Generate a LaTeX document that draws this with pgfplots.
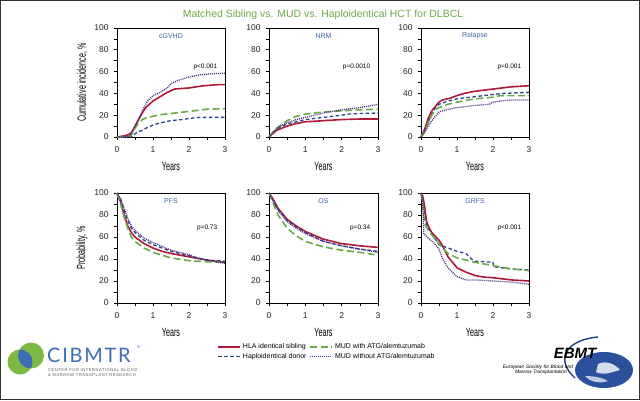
\documentclass[border=0pt]{standalone}
\usepackage{fontspec}
\setmainfont{Liberation Sans}
\newfontfamily\latofont{Lato}
\usepackage{pgfplots}
\pgfplotsset{compat=1.18}
\definecolor{cred}{HTML}{B0183A}
\definecolor{cblue}{HTML}{2A4585}
\definecolor{cgreen}{HTML}{6AAA45}
\definecolor{cpurple}{HTML}{4B2D7F}
\definecolor{ttlgreen}{HTML}{6EAA48}
\definecolor{ptitle}{HTML}{3F62A0}
\definecolor{logoblue}{HTML}{3E6DB5}
\definecolor{logogreen}{HTML}{7DB843}
\definecolor{ebmtblue}{HTML}{2B509C}
\pgfplotsset{
  panel/.style={
    scale only axis, anchor=south west,
    xmin=0, xmax=3, ymin=0, ymax=100,
    xtick={0,1,2,3}, ytick={0,20,...,100},
    minor x tick num=1, minor y tick num=1,
    tick align=outside, tick pos=left,
    major tick length=3bp, minor tick length=3bp,
    axis line style={line width=0.8bp},
    every tick/.style={black, line width=0.6bp},
    tick label style={font=\fontsize{8.5}{9}\selectfont, text=black!85},
    xticklabel style={yshift=-3bp},
    yticklabel style={xshift=-2bp},
    /pgf/number format/assume math mode=true,
    xlabel={\scalebox{0.6}[1]{Years}},
    xlabel style={yshift=-3bp},
    label style={font=\fontsize{12}{12}\selectfont},
    clip=false,
  },
  sred/.style={cred, line width=1.6bp, line join=round},
  sblue/.style={cblue, line width=1.3bp, dash pattern=on 3.5bp off 2.5bp},
  sgreen/.style={cgreen, line width=1.6bp, dash pattern=on 7bp off 3.5bp},
  spurple/.style={cpurple, line width=1.3bp, dash pattern=on 1bp off 1bp},
}
\newcommand{\ptitle}[1]{\node[text=ptitle, font=\fontsize{7}{8}\selectfont] at (axis cs:1.5,93) {#1};}
\newcommand{\pval}[2]{\node[anchor=east, font=\fontsize{6.5}{7}\selectfont] at (axis cs:2.88,#2) {#1};}
\begin{document}
\begin{tikzpicture}[x=1bp,y=1bp]
\useasboundingbox (0,0) rectangle (640,400);
\fill[white] (0,0) rectangle (640,400);
\draw[line width=1bp, black!80] (0.5,0.5) rectangle (639.5,399.5);
\node[text=ttlgreen, font=\fontsize{10.5}{12}\selectfont] at (323,385) {Matched Sibling vs. MUD vs. Haploidentical HCT for DLBCL};

% ---------- cGVHD
\begin{axis}[panel, at={(117bp,263bp)}, width=108bp, height=109bp,
  ylabel={\scalebox{0.6}[1]{Cumulative incidence, \%}}]
\addplot[sred] coordinates {(0,0)(0.1,0.5)(0.2,1)(0.3,2)(0.4,4)(0.5,10)(0.6,16)(0.7,22)(0.8,27)(0.9,30)(1.0,33)(1.2,37)(1.4,41)(1.6,44)(1.8,44.5)(2.0,45)(2.2,46)(2.4,47)(2.6,47.5)(2.8,48)(3.0,48)};
\addplot[sblue] coordinates {(0,0)(0.4,0)(0.5,3)(0.6,5)(0.7,6)(0.8,8)(1.0,11)(1.2,13)(1.5,15)(1.8,16)(2,17)(2.3,18)(3,18)};
\addplot[sgreen] coordinates {(0,0)(0.3,0.5)(0.4,2)(0.5,8)(0.6,13)(0.7,16)(0.8,17.5)(1.0,19)(1.2,20.5)(1.5,21.5)(2.0,23.5)(2.5,25.5)(3,26)};
\addplot[spurple] coordinates {(0,0)(0.2,0.5)(0.35,1)(0.45,6)(0.55,13)(0.65,20)(0.75,27)(0.85,33)(1.0,38)(1.2,41)(1.4,45)(1.5,49)(1.7,52)(2.0,55)(2.3,57)(2.6,58)(3,58.5)};
\ptitle{cGVHD}
\pval{p<0.001}{64.5}
\end{axis}

% ---------- NRM
\begin{axis}[panel, at={(269bp,263bp)}, width=109bp, height=109bp]
\addplot[sred] coordinates {(0,0)(0.1,3)(0.2,6)(0.35,8)(0.5,10)(0.7,12)(1.0,14)(1.3,14.5)(1.5,15)(2.0,16)(2.5,16.5)(3,16.5)};
\addplot[sblue] coordinates {(0,0)(0.1,4)(0.25,8)(0.5,12)(0.75,14)(1.0,16)(1.5,18)(2.0,20)(2.2,21)(2.5,21.5)(3,22)};
\addplot[sgreen] coordinates {(0,0)(0.1,4)(0.25,9)(0.5,15)(0.75,19)(1.0,21)(1.5,23)(2.0,24)(2.5,25)(3,25.5)};
\addplot[spurple] coordinates {(0,0)(0.1,4)(0.25,9)(0.5,13)(0.75,16)(1.0,18)(1.5,22)(2.0,25)(2.5,27)(3,30)};
\ptitle{NRM}
\pval{p=0.0010}{64.5}
\end{axis}

% ---------- Relapse
\begin{axis}[panel, at={(421bp,263bp)}, width=108bp, height=109bp]
\addplot[sred] coordinates {(0,0)(0.1,7)(0.2,17)(0.3,24)(0.4,28)(0.5,32)(0.6,34)(0.8,35.5)(1.0,38)(1.2,40)(1.5,42)(2.0,44)(2.5,46)(3,47)};
\addplot[sblue] coordinates {(0,0)(0.1,6)(0.2,14)(0.3,21)(0.4,27)(0.5,30)(0.75,33)(1.0,35)(1.5,37)(2.0,39)(2.3,40)(3,41)};
\addplot[sgreen] coordinates {(0,0)(0.1,5)(0.2,13)(0.3,20)(0.4,25)(0.5,27)(0.75,30)(1.0,32)(1.5,35)(2.0,36.5)(2.2,38)(3,38)};
\addplot[spurple] coordinates {(0,0)(0.1,4)(0.2,10)(0.3,15)(0.4,19)(0.5,23)(0.7,25)(1.0,27)(1.5,29)(1.9,30)(2.0,32)(2.2,33)(2.5,34)(3,34)};
\ptitle{Relapse}
\pval{p=0.001}{64.5}
\end{axis}

% ---------- PFS
\begin{axis}[panel, at={(117bp,97bp)}, width=108bp, height=110bp,
  ylabel={\scalebox{0.6}[1]{Probability, \%}},
  legend columns=2, transpose legend,
  legend style={at={(0.9,-0.33)}, anchor=north west, draw=none, fill=none,
    font=\fontsize{7}{8}\selectfont, row sep=-1bp,
    /tikz/every even column/.append style={column sep=1bp}},
  legend cell align=left,
  legend image code/.code={\draw[#1] (0bp,0bp) -- (22bp,0bp);}]
\addplot[sred] coordinates {(0,100)(0.1,92)(0.2,80)(0.3,70)(0.4,64)(0.5,60)(0.75,54)(1.0,50)(1.25,47)(1.5,45)(2.0,42)(2.5,39)(3,37)};
\addlegendentry{HLA identical sibling}
\addplot[sblue] coordinates {(0,100)(0.1,94)(0.2,84)(0.3,75)(0.4,68)(0.5,64)(0.75,57)(1.0,53)(1.5,47)(2.0,43)(2.5,39)(3,38)};
\addlegendentry{Haploidentical donor}
\addplot[sgreen] coordinates {(0,100)(0.1,90)(0.2,78)(0.3,68)(0.4,60)(0.5,56)(0.75,50)(1.0,46)(1.5,41)(2.0,38.5)(2.5,37.5)(3,37)};
\addlegendentry{MUD with ATG/alemtuzumab}
\addplot[spurple] coordinates {(0,100)(0.1,95)(0.2,86)(0.3,77)(0.4,70)(0.5,66)(0.75,59)(1.0,55)(1.5,48)(2.0,44)(2.2,41)(2.5,39)(3,36)};
\addlegendentry{MUD without ATG/alemtuzumab}
\ptitle{PFS}
\pval{p=0.73}{68}
\end{axis}

% ---------- OS
\begin{axis}[panel, at={(269bp,97bp)}, width=109bp, height=110bp]
\addplot[sred] coordinates {(0,100)(0.1,95)(0.25,86)(0.5,76)(0.75,70)(1.0,65)(1.5,58)(2.0,54)(2.5,52)(3,50.5)};
\addplot[sblue] coordinates {(0,100)(0.1,94)(0.25,85)(0.5,75)(0.75,69)(1.0,64)(1.5,56)(2.0,52)(2.5,49)(3,47)};
\addplot[sgreen] coordinates {(0,100)(0.1,92)(0.25,80)(0.5,68)(0.75,61)(1.0,56)(1.5,51)(2.0,48)(2.5,46)(3,43.5)};
\addplot[spurple] coordinates {(0,100)(0.1,94)(0.25,84)(0.5,74)(0.75,68)(1.0,63)(1.5,56)(2.0,52)(2.5,49)(3,46)};
\ptitle{OS}
\pval{p=0.34}{68}
\end{axis}

% ---------- GRFS
\begin{axis}[panel, at={(421bp,97bp)}, width=108bp, height=110bp]
\addplot[sred] coordinates {(0,100)(0.05,97)(0.1,88)(0.15,75)(0.2,70)(0.3,64)(0.5,57)(0.6,52)(0.75,42)(0.9,36)(1.0,32)(1.25,28)(1.5,25)(1.75,23.5)(2.0,23)(2.5,21)(3,20)};
\addplot[sblue] coordinates {(0,100)(0.05,95)(0.1,80)(0.15,72)(0.25,65)(0.4,58)(0.5,53)(0.75,50)(1.0,47)(1.25,45)(1.4,40)(1.5,38)(2.0,37)(2.01,33)(2.5,31)(3,30)};
\addplot[sgreen] coordinates {(0,100)(0.05,90)(0.1,72)(0.2,66)(0.3,62)(0.5,54)(0.6,50)(0.75,45)(1.0,41)(1.5,37)(2.0,34)(2.5,31)(3,29.5)};
\addplot[spurple] coordinates {(0,100)(0.05,90)(0.08,63)(0.2,59)(0.35,55)(0.5,49)(0.6,40)(0.75,32)(0.9,27)(1.0,24)(1.25,21)(1.5,21)(2.0,20)(2.5,19)(3,17)};
\ptitle{GRFS}
\pval{p<0.001}{68}
\end{axis}

% ---------- CIBMTR logo
\fill[logogreen] (20,38) circle (12.5);
\fill[logogreen] (31,44.5) circle (13);
\begin{scope}
  \clip (20,38) circle (12.5);
  \fill[logoblue] (31,44.5) circle (13);
\end{scope}
\node[anchor=west, text=logoblue, inner sep=0pt, font=\latofont\fontsize{20}{20}\selectfont\addfontfeatures{LetterSpace=9}] at (47,45) {CIBMTR};
\node[anchor=west, text=logoblue, inner sep=0pt, font=\fontsize{4}{4}\selectfont] at (137,53) {®};
\node[anchor=west, text=black!65, inner sep=0pt, font=\fontsize{4.1}{4.5}\selectfont\addfontfeatures{LetterSpace=13}] at (48,29.5) {CENTER FOR INTERNATIONAL BLOOD};
\node[anchor=west, text=black!65, inner sep=0pt, font=\fontsize{4.1}{4.5}\selectfont\addfontfeatures{LetterSpace=13}] at (48,24.5) {\& MARROW TRANSPLANT RESEARCH};

% ---------- EBMT logo
\fill[ebmtblue] (604,30) ellipse (29 and 18);
\fill[white!80!ebmtblue] (598,36) .. controls (606,40) and (615,36) .. (620,30) .. controls (612,28) and (604,24) .. (596,28) -- cycle;
\fill[white!70!ebmtblue] (585,24) .. controls (590,18) and (600,16) .. (608,19) .. controls (603,22) and (595,24) .. cycle;
\draw[ebmtblue!80!black, line width=1.4bp] (598,63) .. controls (565,60) and (555,40) .. (575,22);
\node[font=\bfseries\itshape\fontsize{15}{15}\selectfont, inner sep=0pt] at (575,47) {EBMT};
\node[font=\itshape\fontsize{5}{5}\selectfont, inner sep=0pt] at (538,33) {European Society for Blood and};
\node[font=\itshape\fontsize{5}{5}\selectfont, inner sep=0pt] at (541,28) {Marrow Transplantation};
\end{tikzpicture}
\end{document}
